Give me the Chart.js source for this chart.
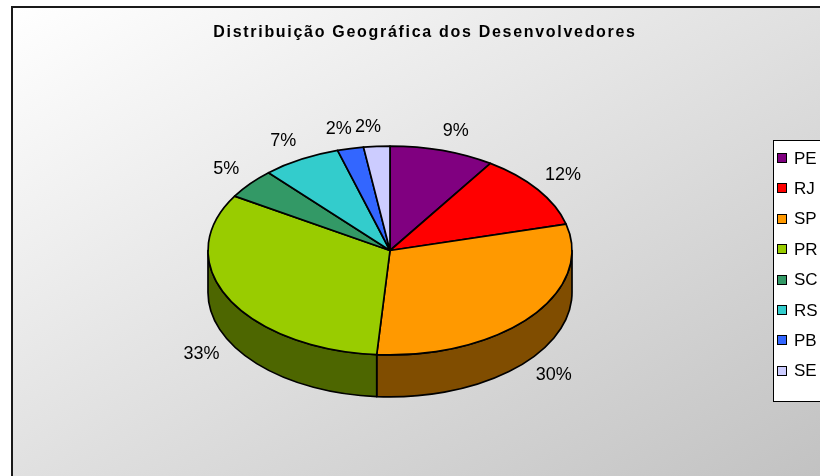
<!DOCTYPE html>
<html>
<head>
<meta charset="utf-8">
<script src="https://cdn.jsdelivr.net/npm/chart.js@4.4.1/dist/chart.umd.min.js"></script>
<style>
  html, body { margin: 0; padding: 0; background: #fff; overflow: hidden; }
  #wrap { width: 820px; height: 476px; position: relative; }
</style>
</head>
<body>
<div id="wrap"><canvas id="pie" width="820" height="476"></canvas></div>
<script>
const titleText = "Distribuição Geográfica dos Desenvolvedores";
const states = ["PE", "RJ", "SP", "PR", "SC", "RS", "PB", "SE"];
// number of developers per state (labels show the share of the total)
const developers = [4, 5, 13, 14, 2, 3, 1, 1];
const sliceColors = ["#800080", "#FF0000", "#FF9900", "#99CC00", "#339966", "#33CCCC", "#3366FF", "#CCCCFF"];
const sideColors = ["#400040", "#800000", "#804D00", "#4D6600", "#1A4D33", "#1A6666", "#1A3380", "#666680"];

const tilt = 0.574;   // vertical squash of the pie
const depth = 42;     // thickness of the pie side
const FONT = '"Liberation Sans", Arial, sans-serif';

function topPath(ctx, x, y, r, a0, a1) {
  ctx.beginPath();
  ctx.moveTo(x, y);
  ctx.ellipse(x, y, r, r * tilt, 0, a0, a1);
  ctx.closePath();
}

const pie3d = {
  id: "pie3d",
  beforeDraw(chart) {
    const ctx = chart.ctx;
    ctx.save();
    ctx.fillStyle = "#fff";
    ctx.fillRect(0, 0, chart.width, chart.height);
    const g = ctx.createLinearGradient(13, 8, 419, 708);
    g.addColorStop(0, "#ffffff");
    g.addColorStop(1, "#c2c2c2");
    ctx.fillStyle = g;
    ctx.fillRect(13, 8, chart.width, chart.height);
    ctx.fillStyle = "#1a1a1a";
    ctx.fillRect(11, 6, chart.width, 2);
    ctx.fillRect(11, 6, 2, chart.height);
    ctx.restore();
  },
  beforeDatasetsDraw(chart) {
    const ctx = chart.ctx;
    const arcs = chart.getDatasetMeta(0).data;
    const total = developers.reduce((s, v) => s + v, 0);
    ctx.save();
    ctx.lineWidth = 1.7;
    ctx.strokeStyle = "#000";
    ctx.lineJoin = "round";

    // front side of the pie
    arcs.forEach((el, i) => {
      const { x, y, startAngle, endAngle, outerRadius: r } = el;
      const a0 = Math.max(startAngle, 0);
      const a1 = Math.min(endAngle, Math.PI);
      if (a1 <= a0) return;
      ctx.beginPath();
      ctx.ellipse(x, y, r, r * tilt, 0, a0, a1);
      ctx.lineTo(x + r * Math.cos(a1), y + r * tilt * Math.sin(a1) + depth);
      ctx.ellipse(x, y + depth, r, r * tilt, 0, a1, a0, true);
      ctx.closePath();
      ctx.fillStyle = sideColors[i];
      ctx.fill();
      ctx.stroke();
    });

    // top face
    arcs.forEach((el, i) => {
      const { x, y, startAngle, endAngle, outerRadius: r } = el;
      topPath(ctx, x, y, r, startAngle, endAngle);
      ctx.fillStyle = sliceColors[i];
      ctx.fill();
      ctx.stroke();
    });

    // percentage labels
    ctx.fillStyle = "#000";
    ctx.font = "18px " + FONT;
    ctx.textAlign = "center";
    ctx.textBaseline = "middle";
    arcs.forEach((el, i) => {
      const { x, y, startAngle, endAngle, outerRadius: r } = el;
      const mid = (startAngle + endAngle) / 2;
      const c = Math.cos(mid), s = Math.sin(mid);
      const lx = x + (r + 22) * c + 7 * Math.sign(c);
      const ly = y + (r + 22) * tilt * s + 7 * Math.sign(s) + (s > 0 ? depth + 1 : 0);
      ctx.fillText(Math.round(developers[i] / total * 100) + "%", lx, ly);
    });
    ctx.restore();
    return false;
  },
  afterDraw(chart) {
    const ctx = chart.ctx;
    ctx.save();
    // title
    ctx.fillStyle = "#000";
    ctx.font = "bold 16px " + FONT;
    ctx.letterSpacing = "1.7px";
    ctx.textAlign = "center";
    ctx.textBaseline = "middle";
    ctx.fillText(titleText, 425, 33);
    ctx.letterSpacing = "0px";

    // legend
    ctx.fillStyle = "#fff";
    ctx.fillRect(773, 140, 80, 261);
    ctx.strokeStyle = "#000";
    ctx.lineWidth = 1;
    ctx.strokeRect(773.5, 140.5, 80, 261);
    ctx.font = "17px " + FONT;
    ctx.textAlign = "left";
    states.forEach((name, i) => {
      const cy = 158 + i * 30.4;
      ctx.fillStyle = sliceColors[i];
      ctx.fillRect(777.5, Math.round(cy) - 4.5, 9, 9);
      ctx.strokeRect(777.5, Math.round(cy) - 4.5, 9, 9);
      ctx.fillStyle = "#000";
      ctx.fillText(name, 794, cy + 1);
    });
    ctx.restore();
  }
};

new Chart(document.getElementById("pie"), {
  type: "pie",
  data: {
    labels: states,
    datasets: [{
      data: developers,
      backgroundColor: sliceColors,
      borderColor: "#000",
      borderWidth: 1
    }]
  },
  options: {
    responsive: false,
    animation: false,
    events: [],
    radius: 182,
    layout: { padding: { left: 0, right: 40, top: 25, bottom: 0 } },
    plugins: {
      legend: { display: false },
      title: { display: false },
      tooltip: { enabled: false }
    }
  },
  plugins: [pie3d]
});
</script>
</body>
</html>
